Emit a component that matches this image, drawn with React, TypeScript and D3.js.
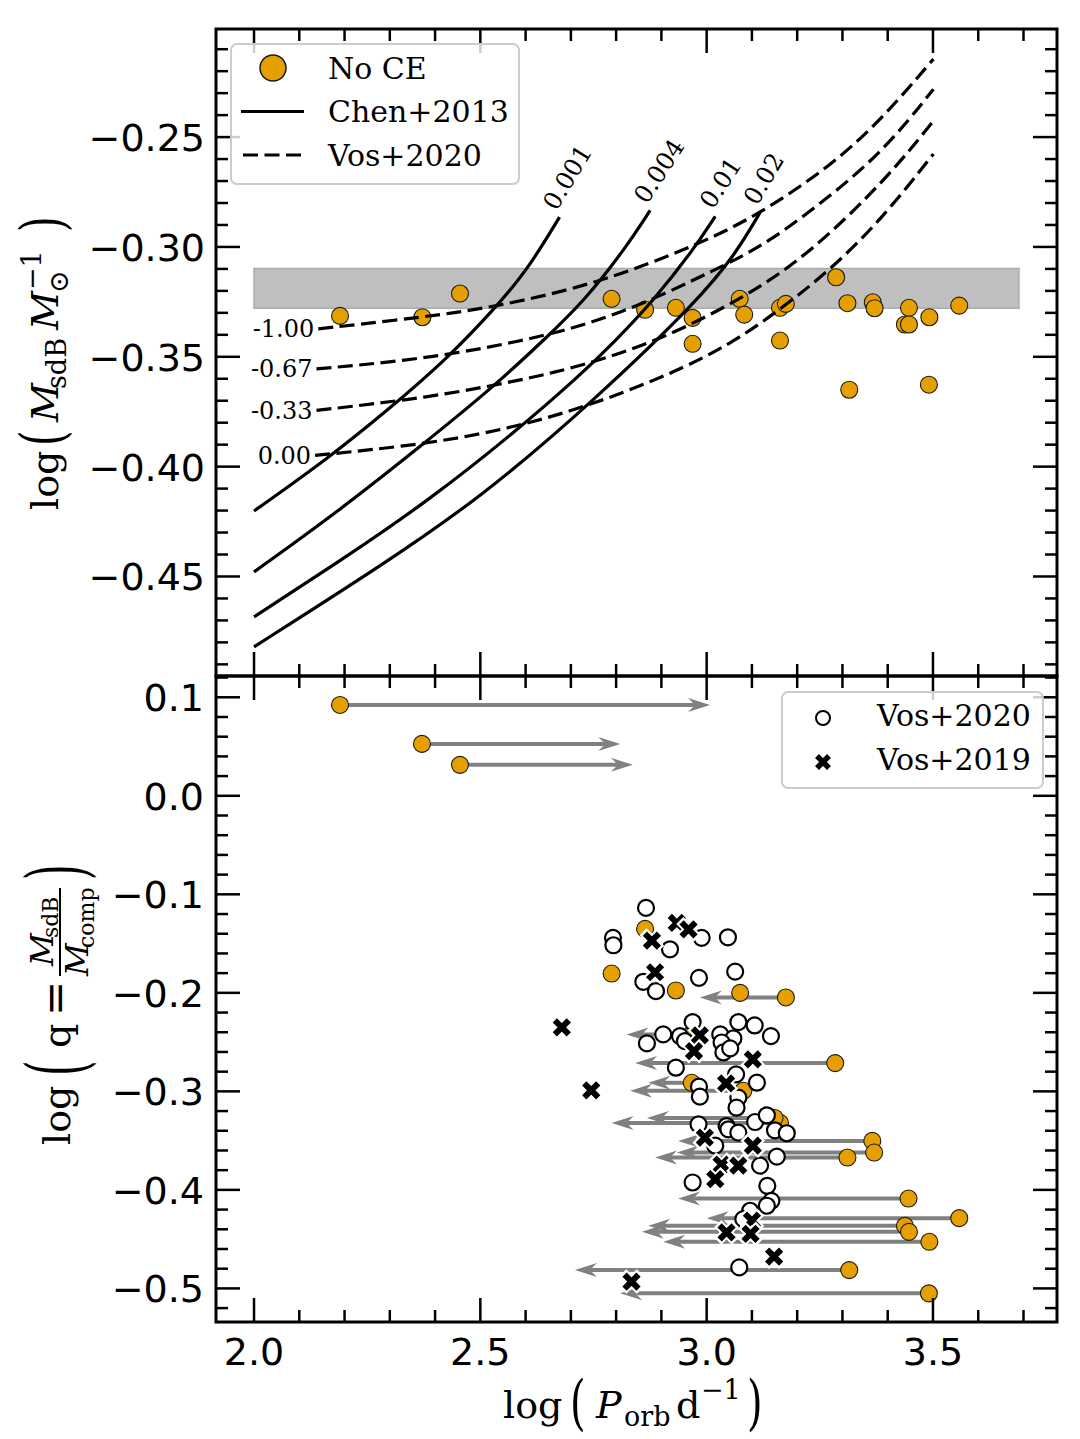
import React from "react";
import * as d3 from "d3";

// ---- top panel: no-CE systems ----
const noCeLogP = [2.19, 2.372, 2.455, 2.79, 2.864, 2.932, 2.969, 2.969, 3.073, 3.083, 3.162, 3.175, 3.162, 3.286, 3.311, 3.367, 3.371, 3.447, 3.438, 3.447, 3.492, 3.558, 3.315, 3.491];
const noCeLogM = [-0.3314, -0.332, -0.3212, -0.3236, -0.3286, -0.3277, -0.3323, -0.3441, -0.3236, -0.3308, -0.3277, -0.3259, -0.3426, -0.3138, -0.3256, -0.3252, -0.3279, -0.3277, -0.3353, -0.3353, -0.332, -0.3267, -0.365, -0.3627];

// observed sdB mass band (log 0.47 .. log 0.49)
const bandLogP = [2.0, 3.69];
const bandLogM = [-0.3279, -0.3098];

// Chen+2013 tracks
const chenLabels = ["0.001", "0.004", "0.01", "0.02"];
const chenLogP = [
  [2.0, 2.164, 2.297, 2.429, 2.54, 2.606, 2.675],
  [2.0, 2.186, 2.371, 2.532, 2.65, 2.731, 2.82, 2.875],
  [2.0, 2.208, 2.385, 2.577, 2.72, 2.798, 2.882, 2.971, 3.019],
  [2.0, 2.282, 2.503, 2.75, 2.985, 3.066, 3.118],
];
const chenLogM = [
  [-0.4202, -0.3962, -0.374, -0.3505, -0.3262, -0.3098, -0.2864],
  [-0.4479, -0.4204, -0.3902, -0.3632, -0.3405, -0.3242, -0.3008, -0.2834],
  [-0.4684, -0.4405, -0.4155, -0.3842, -0.3585, -0.3428, -0.3245, -0.3012, -0.2861],
  [-0.482, -0.445, -0.4138, -0.3702, -0.3236, -0.3025, -0.2843],
];

// Vos+2020 tracks
const vosLabels = ["-1.00", "-0.67", "-0.33", "0.00"];
const vosLogP = [
  [2.142, 2.371, 2.525, 2.761, 2.985, 3.118, 3.28, 3.39, 3.501],
  [2.138, 2.356, 2.577, 2.798, 3.03, 3.133, 3.28, 3.398, 3.501],
  [2.138, 2.385, 2.577, 2.72, 2.897, 3.088, 3.228, 3.398, 3.501],
  [2.135, 2.385, 2.577, 2.77, 3.015, 3.16, 3.28, 3.39, 3.501],
];
const vosLogM = [
  [-0.3373, -0.332, -0.3277, -0.3167, -0.2986, -0.285, -0.2623, -0.2411, -0.2145],
  [-0.3555, -0.3515, -0.3438, -0.3322, -0.3093, -0.2986, -0.2759, -0.2547, -0.2282],
  [-0.3744, -0.3686, -0.3612, -0.3545, -0.3426, -0.3225, -0.303, -0.269, -0.2426],
  [-0.3949, -0.3897, -0.3822, -0.3705, -0.3497, -0.329, -0.3093, -0.2865, -0.2577],
];

// ---- bottom panel ----
const arrowFromLogP = [2.19, 2.371, 2.455, 2.864, 2.79, 2.932, 3.074, 3.175, 2.967, 3.284, 2.967, 3.081, 3.162, 3.15, 3.366, 3.37, 3.311, 3.446, 3.558, 3.438, 3.447, 3.492, 3.315, 3.491];
const arrowLogQ = [0.0922, 0.0527, 0.0314, -0.1351, -0.1804, -0.1976, -0.2, -0.2047, -0.2422, -0.2713, -0.2913, -0.2994, -0.332, -0.327, -0.3503, -0.3621, -0.3672, -0.4088, -0.4287, -0.4365, -0.4426, -0.4527, -0.4814, -0.505];
const arrowToLogP = [3.0075, 2.809, 2.837, 2.864, 2.79, 2.932, 3.074, 2.985, 2.823, 2.842, 2.871, 2.831, 2.79, 2.868, 2.937, 2.934, 2.886, 2.937, 3.0, 2.871, 2.857, 2.904, 2.709, 2.809];

const vos2020LogP = [2.866, 2.793, 2.794, 2.919, 2.989, 3.047, 2.86, 2.888, 2.983, 3.063, 2.969, 2.904, 2.868, 2.941, 2.952, 3.03, 3.07, 3.106, 3.142, 3.059, 3.033, 3.037, 3.052, 2.932, 2.983, 2.985, 3.065, 3.111, 3.07, 3.066, 2.982, 3.044, 3.107, 3.133, 3.048, 3.07, 3.151, 3.177, 3.019, 3.155, 3.118, 2.969, 3.134, 3.143, 3.133, 3.096, 3.081, 3.072];
const vos2020LogQ = [-0.1138, -0.1442, -0.1517, -0.1558, -0.1442, -0.1436, -0.1888, -0.1983, -0.1848, -0.1784, -0.2297, -0.2422, -0.2513, -0.2439, -0.249, -0.2422, -0.2297, -0.2331, -0.2439, -0.2463, -0.2504, -0.2605, -0.2564, -0.276, -0.2952, -0.3054, -0.2827, -0.2912, -0.3064, -0.3166, -0.3335, -0.3352, -0.3311, -0.3243, -0.3385, -0.3419, -0.3395, -0.3425, -0.3551, -0.3663, -0.3754, -0.3925, -0.3959, -0.4111, -0.4161, -0.4212, -0.4297, -0.4787];

const vos2019LogP = [2.934, 2.96, 2.879, 2.886, 2.985, 2.972, 3.102, 3.043, 2.996, 3.102, 3.033, 3.07, 3.019, 3.1, 3.044, 3.097, 3.149, 2.68, 2.745, 2.834];
const vos2019LogQ = [-0.129, -0.1355, -0.1469, -0.1791, -0.2432, -0.2592, -0.2676, -0.2919, -0.3469, -0.3551, -0.3744, -0.3754, -0.3892, -0.4313, -0.4431, -0.4447, -0.4677, -0.2351, -0.299, -0.493];

// ticks
const xMajor = [2.0, 2.5, 3.0, 3.5];
const xMajorLabels = ["2.0", "2.5", "3.0", "3.5"];
const topMajor = [-0.25, -0.3, -0.35, -0.4, -0.45];
const topMajorLabels = ["\u22120.25", "\u22120.30", "\u22120.35", "\u22120.40", "\u22120.45"];
const botMajor = [0.1, 0.0, -0.1, -0.2, -0.3, -0.4, -0.5];
const botMajorLabels = ["0.1", "0.0", "\u22120.1", "\u22120.2", "\u22120.3", "\u22120.4", "\u22120.5"];

const LEFT = 216, RIGHT = 1057, TOP = 29, MID = 676, BOTTOM = 1322;
const ORANGE = "#E69F00";
const SERIF = "DejaVu Serif, serif";
const SANS = "DejaVu Sans, sans-serif";

const x = d3.scaleLinear().domain([1.916, 3.774]).range([LEFT, RIGHT]);
const yT = d3.scaleLinear().domain([-0.4953, -0.2008]).range([MID, TOP]);
const yB = d3.scaleLinear().domain([-0.5341, 0.1216]).range([BOTTOM, MID]);

const xMinor = d3.range(21, 38).map((i) => i / 10);
const topMinor = d3.range(-49, -20).map((i) => i / 100);
const botMinor = d3.range(-26, 7).map((i) => i / 50);

const lineT = d3
  .line<[number, number]>()
  .x((d) => x(d[0]))
  .y((d) => yT(d[1]))
  .curve(d3.curveBasis);

function Ticks({ y0, y1, ys, ysMinor }: { y0: number; y1: number; ys: number[]; ysMinor: number[] }) {
  const maj = 24, mn = 12, sw = 2.5;
  return (
    <g stroke="#000" strokeWidth={sw}>
      {xMajor.map((v) => (
        <g key={"xm" + v}>
          <line x1={x(v)} x2={x(v)} y1={y1} y2={y1 - maj} />
          <line x1={x(v)} x2={x(v)} y1={y0} y2={y0 + maj} />
        </g>
      ))}
      {xMinor.filter((v) => !xMajor.some((m) => Math.abs(m - v) < 1e-6)).map((v) => (
        <g key={"xn" + v}>
          <line x1={x(v)} x2={x(v)} y1={y1} y2={y1 - mn} />
          <line x1={x(v)} x2={x(v)} y1={y0} y2={y0 + mn} />
        </g>
      ))}
      {ys.map((py, i) => (
        <g key={"ym" + i}>
          <line x1={LEFT} x2={LEFT + maj} y1={py} y2={py} />
          <line x1={RIGHT} x2={RIGHT - maj} y1={py} y2={py} />
        </g>
      ))}
      {ysMinor.map((py, i) => (
        <g key={"yn" + i}>
          <line x1={LEFT} x2={LEFT + mn} y1={py} y2={py} />
          <line x1={RIGHT} x2={RIGHT - mn} y1={py} y2={py} />
        </g>
      ))}
    </g>
  );
}

function XMark({ cx, cy, s, w, halo }: { cx: number; cy: number; s: number; w: number; halo: boolean }) {
  const d = `M${cx - s},${cy - s}L${cx + s},${cy + s}M${cx - s},${cy + s}L${cx + s},${cy - s}`;
  const e = s + 1.8;
  const dh = `M${cx - e},${cy - e}L${cx + e},${cy + e}M${cx - e},${cy + e}L${cx + e},${cy - e}`;
  return (
    <g>
      {halo && <path d={dh} stroke="#fff" strokeWidth={w + 4} fill="none" />}
      <path d={d} stroke="#000" strokeWidth={w} fill="none" />
    </g>
  );
}

function Arrow({ x0, x1, py }: { x0: number; x1: number; py: number }) {
  const dir = Math.sign(x1 - x0);
  const L = 22, hw = 7, notch = 15;
  const head = `M${x1},${py}L${x1 - dir * L},${py - hw}L${x1 - dir * notch},${py}L${x1 - dir * L},${py + hw}Z`;
  return (
    <g>
      <line x1={x0} x2={x1 - dir * notch} y1={py} y2={py} stroke="#808080" strokeWidth={4} />
      <path d={head} fill="#808080" />
    </g>
  );
}

export default function App() {
  const chen = chenLogP.map((ps, i) => ps.map((p, j) => [p, chenLogM[i][j]] as [number, number]));
  const vos = vosLogP.map((ps, i) => ps.map((p, j) => [p, vosLogM[i][j]] as [number, number]));

  const chenLabelPos = chen.map((pts, i) => {
    const a = pts[pts.length - 2], b = pts[pts.length - 1];
    const ax = x(a[0]), ay = yT(a[1]), bx = x(b[0]), by = yT(b[1]);
    const len = Math.hypot(bx - ax, by - ay);
    const dx = (bx - ax) / len, dy = (by - ay) / len;
    const along = chenLabels[i].length * 7 + 3;
    const perp = 14;
    return {
      cx: bx + dx * along + dy * perp,
      cy: by + dy * along - dx * perp,
      ang: (Math.atan2(dy, dx) * 180) / Math.PI,
    };
  });

  return (
    <svg width={1080} height={1439} style={{ position: "absolute", left: 0, top: 0, background: "#fff" }}>
      <rect x={0} y={0} width={1080} height={1439} fill="#fff" />

      {/* ---------- top panel ---------- */}
      <rect
        x={x(bandLogP[0])}
        y={yT(bandLogM[1])}
        width={x(bandLogP[1]) - x(bandLogP[0])}
        height={yT(bandLogM[0]) - yT(bandLogM[1])}
        fill="#bfbfbf"
        stroke="#acacac"
        strokeWidth={1.5}
      />
      {noCeLogP.map((p, i) => (
        <circle key={"nc" + i} cx={x(p)} cy={yT(noCeLogM[i])} r={8.5} fill={ORANGE} stroke="#1a1a1a" strokeWidth={1.1} />
      ))}
      {chen.map((pts, i) => (
        <path key={"ch" + i} d={lineT(pts) || ""} fill="none" stroke="#000" strokeWidth={3.2} />
      ))}
      {vos.map((pts, i) => (
        <path key={"vo" + i} d={lineT(pts) || ""} fill="none" stroke="#000" strokeWidth={3.2} strokeDasharray="15,6.5" />
      ))}
      {chenLabelPos.map((p, i) => (
        <text
          key={"cl" + i}
          x={0}
          y={0}
          transform={`translate(${p.cx},${p.cy}) rotate(${p.ang})`}
          textAnchor="middle"
          dominantBaseline="central"
          fontFamily={SERIF}
          fontSize={24.5}
        >
          {chenLabels[i]}
        </text>
      ))}
      {vos.map((pts, i) => (
        <text key={"vl" + i} x={x(pts[0][0]) - 4} y={yT(pts[0][1]) + 8.5} textAnchor="end" fontFamily={SERIF} fontSize={24}>
          {vosLabels[i]}
        </text>
      ))}

      <Ticks y0={TOP} y1={MID} ys={topMajor.map(yT)} ysMinor={topMinor.filter((v) => !topMajor.some((m) => Math.abs(m - v) < 1e-6)).map(yT)} />

      {/* top legend */}
      <rect x={231} y={44} width={288} height={140} rx={6} fill="#fff" fillOpacity={0.8} stroke="#cccccc" strokeWidth={2} />
      <circle cx={273} cy={68} r={13} fill={ORANGE} stroke="#1a1a1a" strokeWidth={1.5} />
      <line x1={241} x2={304} y1={111.5} y2={111.5} stroke="#000" strokeWidth={3.2} />
      <line x1={243} x2={304} y1={155} y2={155} stroke="#000" strokeWidth={3.2} strokeDasharray="15,6.5" />
      <g fontFamily={SERIF} fontSize={30}>
        <text x={328} y={79}>No CE</text>
        <text x={328} y={122}>Chen+2013</text>
        <text x={328} y={166}>Vos+2020</text>
      </g>

      {/* ---------- bottom panel ---------- */}
      {arrowFromLogP.map((p, i) =>
        Math.abs(arrowToLogP[i] - p) > 0.01 ? (
          <Arrow key={"ar" + i} x0={x(p)} x1={x(arrowToLogP[i])} py={yB(arrowLogQ[i])} />
        ) : null
      )}
      {arrowFromLogP.map((p, i) => (
        <circle key={"bo" + i} cx={x(p)} cy={yB(arrowLogQ[i])} r={8.5} fill={ORANGE} stroke="#1a1a1a" strokeWidth={1.1} />
      ))}
      {vos2020LogP.map((p, i) => (
        <circle key={"v20" + i} cx={x(p)} cy={yB(vos2020LogQ[i])} r={8} fill="#fff" stroke="#000" strokeWidth={2.2} />
      ))}
      {vos2019LogP.map((p, i) => (
        <XMark key={"v19" + i} cx={x(p)} cy={yB(vos2019LogQ[i])} s={7} w={6} halo={true} />
      ))}

      <Ticks y0={MID} y1={BOTTOM} ys={botMajor.map(yB)} ysMinor={botMinor.filter((v) => !botMajor.some((m) => Math.abs(m - v) < 1e-6)).map(yB)} />

      {/* bottom legend */}
      <rect x={782} y={692} width={261} height={96} rx={6} fill="#fff" fillOpacity={0.8} stroke="#cccccc" strokeWidth={2} />
      <circle cx={823} cy={718} r={7} fill="#fff" stroke="#000" strokeWidth={2} />
      <XMark cx={823} cy={762} s={6} w={5.5} halo={false} />
      <g fontFamily={SERIF} fontSize={30}>
        <text x={877} y={726}>Vos+2020</text>
        <text x={877} y={770}>Vos+2019</text>
      </g>

      {/* frames */}
      <rect x={LEFT} y={TOP} width={RIGHT - LEFT} height={MID - TOP} fill="none" stroke="#000" strokeWidth={3} />
      <rect x={LEFT} y={MID} width={RIGHT - LEFT} height={BOTTOM - MID} fill="none" stroke="#000" strokeWidth={3} />

      {/* tick labels */}
      <g fontFamily={SANS} fontSize={38}>
        {topMajor.map((v, i) => (
          <text key={"tl" + i} x={205} y={yT(v) + 14} textAnchor="end">{topMajorLabels[i]}</text>
        ))}
        {botMajor.map((v, i) => (
          <text key={"bl" + i} x={204} y={yB(v) + 14} textAnchor="end">{botMajorLabels[i]}</text>
        ))}
        {xMajor.map((v, i) => (
          <text key={"xl" + i} x={x(v)} y={1365} textAnchor="middle">{xMajorLabels[i]}</text>
        ))}
      </g>

      {/* x label */}
      <g fontFamily={SERIF} fontSize={38}>
        <text x={503} y={1418}>log</text>
        <text transform="translate(570,1423) scale(1,1.5)" fontSize={40}>(</text>
        <text x={596} y={1418} fontStyle="italic">P</text>
        <text x={624} y={1426} fontSize={27}>orb</text>
        <text x={676} y={1418}>d</text>
        <text x={701} y={1399} fontSize={27}>{"\u22121"}</text>
        <text transform="translate(747,1423) scale(1,1.5)" fontSize={40}>)</text>
      </g>

      {/* top y label */}
      <g transform="translate(58,352) rotate(-90)" fontFamily={SERIF} fontSize={38}>
        <text x={-158} y={0}>log</text>
        <text transform="translate(-94,5) scale(1,1.5)" fontSize={40}>(</text>
        <text x={-70} y={0} fontStyle="italic">M</text>
        <text x={-37} y={8} fontSize={27}>sdB</text>
        <text x={22} y={0} fontStyle="italic">M</text>
        <text x={59} y={10} fontSize={27}>{"\u2299"}</text>
        <text x={62} y={-17} fontSize={27}>{"\u22121"}</text>
        <text transform="translate(120,5) scale(1,1.5)" fontSize={40}>)</text>
      </g>

      {/* bottom y label */}
      <g transform="translate(70,1000) rotate(-90)" fontFamily={SERIF} fontSize={38}>
        <text x={-145} y={0}>log</text>
        <text transform="translate(-76,14) scale(1,2)" fontSize={40}>(</text>
        <text x={-48} y={0}>q</text>
        <text x={-16} y={0} fontSize={42}>=</text>
        <line x1={24} x2={112} y1={-10} y2={-10} stroke="#000" strokeWidth={2} />
        <text x={34} y={-17} fontSize={32} fontStyle="italic">M</text>
        <text x={62} y={-12} fontSize={22}>sdB</text>
        <text x={24} y={18} fontSize={32} fontStyle="italic">M</text>
        <text x={52} y={24} fontSize={22}>comp</text>
        <text transform="translate(120,14) scale(1,2)" fontSize={40}>)</text>
      </g>
    </svg>
  );
}
